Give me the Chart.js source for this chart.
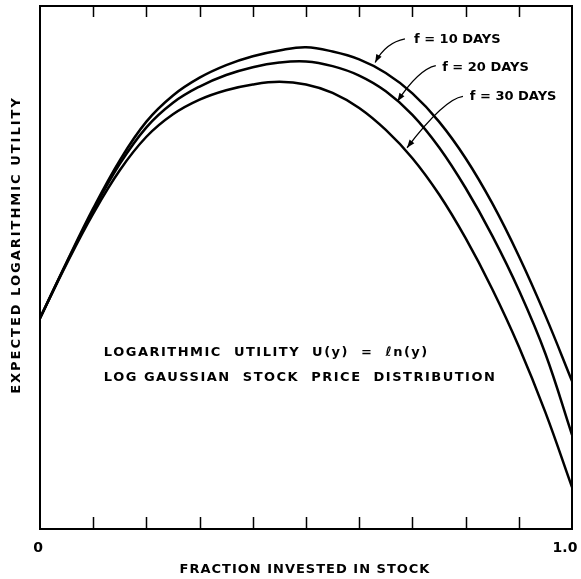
<!DOCTYPE html>
<html>
<head>
<meta charset="utf-8">
<script src="https://cdn.jsdelivr.net/npm/chart.js@4/dist/chart.umd.min.js"></script>
<style>
  html, body { margin: 0; padding: 0; background: #fff; }
  #wrap { width: 581px; height: 579px; }
</style>
</head>
<body>
<div id="wrap"><canvas id="c" width="581" height="579"></canvas></div>
<script>
// Fraction of wealth invested in stock
const fraction = [0, 0.05, 0.10, 0.15, 0.20, 0.25, 0.30, 0.35, 0.40, 0.45, 0.50,
                  0.55, 0.60, 0.65, 0.70, 0.75, 0.80, 0.85, 0.90, 0.95, 1.00];

// Expected logarithmic utility (arbitrary units) for each holding period
const utility10Days = [40.3, 51.0, 61.3, 70.5, 77.9, 82.9, 86.3, 88.7, 90.4, 91.5, 92.1,
                       91.3, 89.8, 87.2, 83.3, 77.9, 70.9, 62.3, 52.2, 40.8, 28.3];
const utility20Days = [40.3, 50.9, 60.9, 69.8, 76.8, 81.5, 84.6, 86.8, 88.3, 89.2, 89.4,
                       88.5, 86.7, 83.7, 79.2, 73.0, 65.2, 56.1, 45.7, 33.5, 18.0];
const utility30Days = [40.3, 50.7, 60.3, 68.6, 75.0, 79.3, 82.1, 83.9, 85.0, 85.5, 85.0,
                       83.4, 80.5, 76.3, 70.9, 64.0, 55.6, 45.9, 34.9, 22.3, 8.0];

// Series labels
const seriesLabels = ['f = 10 DAYS', 'f = 20 DAYS', 'f = 30 DAYS'];

// Tick marks along the horizontal axis and the two labelled ends
const xTickMarks = [0.1, 0.2, 0.3, 0.4, 0.5, 0.6, 0.7, 0.8, 0.9];
const xTickLabels = [{ value: 0, text: '0' }, { value: 1, text: '1.0' }];

const xTitle = 'FRACTION INVESTED IN STOCK';
const yTitle = 'EXPECTED LOGARITHMIC UTILITY';
const noteLines = ['LOGARITHMIC  UTILITY  U(y)  =  \u2113n(y)', 'LOG GAUSSIAN  STOCK  PRICE  DISTRIBUTION'];

const toPoints = ys => fraction.map((x, i) => ({ x, y: ys[i] }));

const FONT = 'bold 13px "DejaVu Sans"';
const TICK_FONT = 'bold 14px "DejaVu Sans"';

// Leader lines from each series label to its curve, in data units
const leaders = [
  { label: { x: 0.703, y: 93.5 }, start: { x: 0.686, y: 93.7 }, ctrl: { x: 0.650, y: 93.0 }, tip: { x: 0.630, y: 89.2 } },
  { label: { x: 0.756, y: 88.3 }, start: { x: 0.744, y: 88.6 }, ctrl: { x: 0.712, y: 87.9 }, tip: { x: 0.672, y: 81.8 } },
  { label: { x: 0.808, y: 82.6 }, start: { x: 0.795, y: 82.7 }, ctrl: { x: 0.760, y: 82.2 }, tip: { x: 0.690, y: 72.9 } }
];

const decorations = {
  id: 'decorations',
  afterDraw(chart) {
    const { ctx, chartArea: a, scales } = chart;
    const xs = scales.x, ys = scales.y;
    ctx.save();
    ctx.strokeStyle = '#000';
    ctx.fillStyle = '#000';

    // frame
    ctx.lineWidth = 2;
    ctx.strokeRect(a.left, a.top, a.right - a.left, a.bottom - a.top);

    // inward tick marks, top and bottom
    ctx.lineWidth = 1.5;
    xTickMarks.forEach(v => {
      const px = Math.round(xs.getPixelForValue(v)) + 0.5;
      ctx.beginPath();
      ctx.moveTo(px, a.bottom); ctx.lineTo(px, a.bottom - 12);
      ctx.moveTo(px, a.top); ctx.lineTo(px, a.top + 11);
      ctx.stroke();
    });

    ctx.textBaseline = 'middle';
    ctx.textAlign = 'center';

    // end labels of the horizontal axis
    ctx.font = TICK_FONT;
    ctx.letterSpacing = '0px';
    xTickLabels.forEach(t => {
      ctx.fillText(t.text, xs.getPixelForValue(t.value) + (t.value === 1 ? -7 : -2), a.bottom + 19);
    });

    // axis titles
    ctx.font = FONT;
    ctx.letterSpacing = '1px';
    ctx.fillText(xTitle, 305, a.bottom + 41);
    ctx.save();
    ctx.translate(17, 245);
    ctx.rotate(-Math.PI / 2);
    ctx.letterSpacing = '2px';
    ctx.fillText(yTitle, 0, 0);
    ctx.restore();

    // descriptive note
    ctx.textAlign = 'left';
    ctx.letterSpacing = '1.5px';
    ctx.fillText(noteLines[0], xs.getPixelForValue(0.12), ys.getPixelForValue(33.8));
    ctx.fillText(noteLines[1], xs.getPixelForValue(0.12), ys.getPixelForValue(28.9));

    // series labels with leader arrows
    ctx.letterSpacing = '0px';
    leaders.forEach((L, i) => {
      const p = o => [xs.getPixelForValue(o.x), ys.getPixelForValue(o.y)];
      const [lx, ly] = p(L.label);
      ctx.fillText(seriesLabels[i], lx, ly);
      const [sx, sy] = p(L.start), [cx, cy] = p(L.ctrl), [tx, ty] = p(L.tip);
      ctx.lineWidth = 1.3;
      ctx.beginPath();
      ctx.moveTo(sx, sy);
      ctx.quadraticCurveTo(cx, cy, tx, ty);
      ctx.stroke();
      // arrowhead
      const ang = Math.atan2(ty - cy, tx - cx);
      const len = 8, half = 3;
      ctx.beginPath();
      ctx.moveTo(tx, ty);
      ctx.lineTo(tx - len * Math.cos(ang) + half * Math.sin(ang), ty - len * Math.sin(ang) - half * Math.cos(ang));
      ctx.lineTo(tx - len * Math.cos(ang) - half * Math.sin(ang), ty - len * Math.sin(ang) + half * Math.cos(ang));
      ctx.closePath();
      ctx.fill();
    });
    ctx.restore();
  }
};

const lineStyle = {
  borderColor: '#000',
  borderWidth: 2.5,
  pointRadius: 0,
  fill: false,
  tension: 0.4
};

new Chart(document.getElementById('c'), {
  type: 'line',
  data: {
    datasets: [
      { label: seriesLabels[0], data: toPoints(utility10Days), ...lineStyle },
      { label: seriesLabels[1], data: toPoints(utility20Days), ...lineStyle },
      { label: seriesLabels[2], data: toPoints(utility30Days), ...lineStyle }
    ]
  },
  options: {
    responsive: false,
    animation: false,
    layout: { padding: { left: 40, right: 9, top: 6, bottom: 50 } },
    plugins: { legend: { display: false }, tooltip: { enabled: false } },
    scales: {
      x: { type: 'linear', min: 0, max: 1, display: false },
      y: { type: 'linear', min: 0, max: 100, display: false }
    }
  },
  plugins: [decorations]
});
</script>
</body>
</html>
